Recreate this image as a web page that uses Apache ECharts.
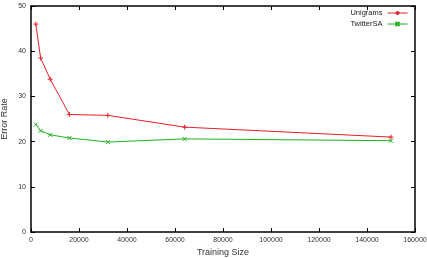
<!DOCTYPE html>
<html lang="en">
<head>
    <meta charset="UTF-8">
    <title>Error Rate vs Training Size</title>
    <script type="text/javascript" src="https://cdn.jsdelivr.net/npm/echarts@6/dist/echarts.min.js"></script>
    <style>
      html, body { margin: 0; padding: 0; background: #fff; }
      #chart { width: 427px; height: 258px; }
    </style>
</head>
<body>
<div id="chart"></div>
<script type="text/javascript">
  var trainingSize = [2000, 4000, 8000, 16000, 32000, 64000, 150000];
  var unigrams = [46.0, 38.5, 33.8, 26.0, 25.8, 23.2, 21.0];
  var twitterSA = [23.8, 22.4, 21.5, 20.8, 19.9, 20.6, 20.2];
  var seriesNames = ['Unigrams', 'TwitterSA'];

  function pairs(xs, ys){
    var out = [];
    for(var i=0;i<xs.length;i++){
      out.push([xs[i], ys[i]]);
    }
    return out;
  }

  var chart = echarts.init(document.getElementById('chart'));
  var tickStyle = { show: true, inside: true, length: 4, lineStyle: { color: '#000', width: 1 } };
  var frameLine = { show: true, onZero: false, lineStyle: { color: '#000', width: 1.5 } };
  var labelFont = { fontFamily: 'Liberation Sans', fontSize: 7, color: '#333' };
  var plain = function(v){ return String(v); };

  var option = {
    animation: false,
    backgroundColor: '#fff',
    grid: { left: 31, right: 12, top: 6, bottom: 26, show: false, containLabel: false, outerBoundsMode: 'none' },
    legend: {
      data: seriesNames,
      orient: 'vertical',
      right: 19,
      top: 9,
      padding: 0,
      align: 'right',
      itemWidth: 20,
      itemHeight: 5,
      itemGap: 3,
      lineStyle: { width: 1 },
      textStyle: { fontFamily: 'Liberation Sans', fontSize: 7.5, color: '#222', padding: [0, 0, 0, 0] }
    },
    xAxis: [{
      type: 'value',
      min: 0, max: 160000, interval: 20000,
      name: 'Training Size',
      nameLocation: 'middle',
      nameGap: 16,
      nameMoveOverlap: false,
      nameTextStyle: { fontFamily: 'Liberation Sans', fontSize: 9, color: '#333' },
      axisLine: frameLine,
      axisTick: tickStyle,
      axisLabel: Object.assign({ margin: 5, formatter: plain }, labelFont),
      splitLine: { show: false }
    }, {
      type: 'value', position: 'top',
      min: 0, max: 160000, interval: 20000,
      axisLine: frameLine,
      axisTick: tickStyle,
      axisLabel: { show: false },
      splitLine: { show: false }
    }],
    yAxis: [{
      type: 'value',
      min: 0, max: 50, interval: 10,
      name: 'Error Rate',
      nameLocation: 'middle',
      nameGap: 22,
      nameMoveOverlap: false,
      nameTextStyle: { fontFamily: 'Liberation Sans', fontSize: 9, color: '#333' },
      axisLine: frameLine,
      axisTick: tickStyle,
      axisLabel: Object.assign({ margin: 5, formatter: plain }, labelFont),
      splitLine: { show: false }
    }, {
      type: 'value', position: 'right',
      min: 0, max: 50, interval: 10,
      axisLine: frameLine,
      axisTick: tickStyle,
      axisLabel: { show: false },
      splitLine: { show: false }
    }],
    series: [{
      name: seriesNames[0],
      type: 'line',
      data: pairs(trainingSize, unigrams),
      symbol: 'path://M0,5L10,5M5,0L5,10',
      symbolSize: 5,
      lineStyle: { color: '#e8202a', width: 1 },
      itemStyle: { color: '#e8202a', borderColor: '#e8202a', borderWidth: 1 }
    }, {
      name: seriesNames[1],
      type: 'line',
      data: pairs(trainingSize, twitterSA),
      symbol: 'path://M0,0L10,10M10,0L0,10',
      symbolSize: 4,
      lineStyle: { color: '#1fb21f', width: 1 },
      itemStyle: { color: '#1fb21f', borderColor: '#1fb21f', borderWidth: 1 }
    }]
  };
  chart.setOption(option);
</script>
</body>
</html>
